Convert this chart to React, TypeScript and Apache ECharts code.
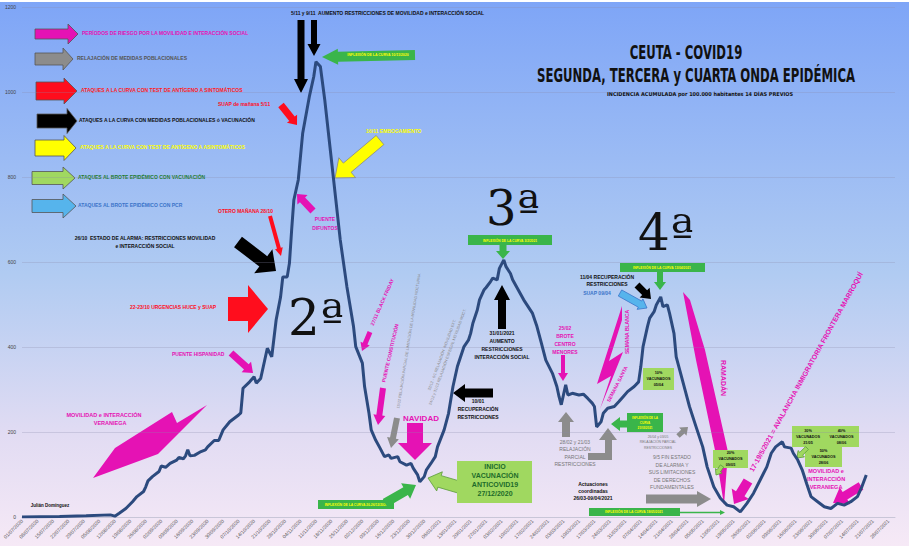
import React, { useEffect, useRef } from "react";
import * as echarts from "echarts";

// ---------- DATA ----------
// daily categories start on 01/07/2020
const START_YEAR = 2020;
const START_MONTH = 6; // July (0-based)
const START_DAY = 1;
const DAY_COUNT = 396;

// days since 01/07/2020 of the points
const dayOffset = [
  0, 17, 29, 40, 42, 44, 47, 50, 52, 55, 56, 57, 59, 62, 63, 65, 67, 70, 71, 73,
  74, 75, 76, 78, 81, 83, 84, 87, 89, 91, 94, 98, 99, 100, 103, 105, 106, 108, 111, 113,
  115, 117, 118, 120, 121, 122, 123, 125, 127, 130, 132, 133, 135, 137, 139, 142, 144, 147, 150, 151,
  154, 155, 157, 158, 160, 162, 164, 166, 167, 170, 171, 174, 176, 177, 179, 180, 182, 183, 185, 187,
  188, 191, 193, 195, 197, 200, 202, 203, 204, 206, 207, 209, 210, 212, 213, 215, 216, 218, 219, 221,
  222, 225, 227, 229, 231, 233, 235, 237, 240, 242, 243, 244, 246, 247, 249, 252, 254, 256, 258, 259,
  260, 262, 263, 265, 268, 270, 272, 274, 277, 279, 280, 281, 283, 284, 286, 287, 289, 290, 292, 293,
  295, 296, 298, 300, 302, 305, 308, 310, 313, 316, 319, 322, 325, 328, 331, 334, 337, 339, 341, 344,
  345, 348, 349, 351, 353, 355, 357, 360, 363, 366, 369, 372, 375, 378, 380, 382,
];
// incidencia acumulada por 100.000 habitantes, 14 días
const incidence = [
  0, 1, 3, 5, 2, 9, 20, 36, 48, 60, 71, 85, 95, 107, 120, 117, 126, 134, 140, 137,
  144, 158, 144, 145, 154, 158, 165, 180, 180, 205, 224, 240, 245, 303, 318, 330, 315, 326, 397, 377,
  464, 518, 565, 565, 597, 675, 746, 793, 903, 989, 1036, 1071, 1060, 981, 887, 746, 652, 542, 448, 401,
  362, 307, 244, 205, 181, 162, 142, 146, 138, 142, 130, 122, 126, 115, 99, 83, 95, 111, 126, 142,
  165, 205, 244, 307, 354, 401, 416, 432, 456, 487, 511, 534, 540, 554, 562, 558, 585, 605, 589, 573,
  558, 530, 511, 495, 479, 448, 409, 369, 338, 307, 283, 264, 311, 287, 291, 287, 289, 279, 268, 260,
  212, 224, 244, 256, 260, 271, 283, 295, 307, 318, 354, 401, 448, 468, 483, 499, 518, 495, 499, 479,
  432, 377, 338, 299, 260, 212, 165, 118, 71, 44, 28, 24, 12, 32, 56, 87, 118, 150, 165, 177,
  165, 162, 150, 134, 111, 79, 48, 36, 24, 20, 32, 28, 36, 48, 71, 99,
];

const Y_MIN = 0;
const Y_MAX = 1200;
const Y_STEP = 200;
const LABEL_EVERY_DAYS = 7;

const TITLE_1 = "CEUTA - COVID19";
const TITLE_2 = "SEGUNDA, TERCERA y CUARTA ONDA EPIDÉMICA";
const SUBTITLE = "INCIDENCIA ACUMULADA por 100.000 habitantes 14 DÍAS PREVIOS";

const legendItems = [
  { text: "PERÍODOS DE RIESGO POR LA MOVILIDAD E INTERACCIÓN SOCIAL", arrow: "#e512b4", color: "#e512b4" },
  { text: "RELAJACIÓN DE MEDIDAS POBLACIONALES", arrow: "#8c8c8c", color: "#555555" },
  { text: "ATAQUES A LA CURVA CON TEST DE ANTÍGENO A SINTOMÁTICOS", arrow: "#ff0d1d", color: "#ff1a1a" },
  { text: "ATAQUES A LA CURVA CON MEDIDAS POBLACIONALES ó VACUNACIÓN", arrow: "#000000", color: "#111111" },
  { text: "ATAQUES A LA CURVA CON TEST DE ANTÍGENO A ASINTOMÁTICOS", arrow: "#ffff00", color: "#ffff00" },
  { text: "ATAQUES AL BROTE EPIDÉMICO CON VACUNACIÓN", arrow: "#a0d860", color: "#1d7a2d" },
  { text: "ATAQUES AL BROTE EPIDÉMICO CON PCR", arrow: "#56b4ec", color: "#3a74c9" },
];

// ---------- helpers ----------
const pad = (n: number) => (n < 10 ? "0" + n : "" + n);
const categories: string[] = [];
for (let i = 0; i < DAY_COUNT; i++) {
  const d = new Date(Date.UTC(START_YEAR, START_MONTH, START_DAY + i));
  categories.push(`${pad(d.getUTCDate())}/${pad(d.getUTCMonth() + 1)}/${d.getUTCFullYear()}`);
}
const seriesData: (number | null)[] = new Array(DAY_COUNT).fill(null);
dayOffset.forEach((d, i) => {
  seriesData[d] = incidence[i];
});

const MAG = "#e512b4";
const GRAY = "#8c8c8c";
const RED = "#ff0d1d";
const YEL = "#ffff00";
const LGREEN = "#a0d860";
const GREEN = "#3ab54a";
const BLUE = "#56b4ec";
const FONT = "Liberation Sans";

function arrowPoly(
  x1: number, y1: number, x2: number, y2: number,
  sw: number, hw: number, hl: number, fill: string, stroke?: string
) {
  const dx = x2 - x1, dy = y2 - y1;
  const L = Math.hypot(dx, dy);
  const ux = dx / L, uy = dy / L;
  const nx = -uy, ny = ux;
  const bx = x2 - ux * hl, by = y2 - uy * hl;
  const pts = [
    [x1 + (nx * sw) / 2, y1 + (ny * sw) / 2],
    [bx + (nx * sw) / 2, by + (ny * sw) / 2],
    [bx + (nx * hw) / 2, by + (ny * hw) / 2],
    [x2, y2],
    [bx - (nx * hw) / 2, by - (ny * hw) / 2],
    [bx - (nx * sw) / 2, by - (ny * sw) / 2],
    [x1 - (nx * sw) / 2, y1 - (ny * sw) / 2],
  ];
  return {
    type: "polygon",
    silent: true,
    shape: { points: pts },
    style: { fill, stroke: stroke || "none", lineWidth: stroke ? 0.8 : 0 },
  };
}

function txt(
  x: number, y: number, text: string, fill: string, size: number,
  o: { align?: string; rot?: number; weight?: string; family?: string; lh?: number; scaleY?: number; scaleX?: number } = {}
) {
  const align = o.align || "left";
  return {
    type: "text",
    silent: true,
    x,
    y,
    rotation: ((o.rot || 0) * Math.PI) / 180,
    scaleX: o.scaleX || 1,
    scaleY: o.scaleY || 1,
    style: {
      text,
      fill,
      fontSize: size,
      fontWeight: o.weight || "bold",
      fontFamily: o.family || FONT,
      align,
      textAlign: align,
      verticalAlign: "middle",
      textVerticalAlign: "middle",
      lineHeight: o.lh || Math.round(size * 1.35),
    },
  };
}

function rect(x: number, y: number, w: number, h: number, fill: string, stroke?: string) {
  return {
    type: "rect",
    silent: true,
    shape: { x, y, width: w, height: h },
    style: { fill, stroke: stroke || "none", lineWidth: stroke ? 0.6 : 0 },
  };
}

function poly(points: number[][], fill: string) {
  return { type: "polygon", silent: true, shape: { points }, style: { fill } };
}

function buildGraphics() {
  const g: any[] = [];
  // top strip
  g.push(rect(0, 0, 909, 2, "#ffffff"));

  // ---- legend (left) ----
  const legendGeom = [
    [35, 78, 34, 10, 20, 10, 82],
    [35, 73, 59, 12, 22, 10, 77],
    [36, 77, 91, 18, 26, 13, 81],
    [37, 77, 121, 14, 25, 10, 79],
    [35, 76, 148, 16, 25, 12, 80],
    [32, 75, 178, 13, 22, 12, 78],
    [32, 76, 206, 13, 24, 13, 78],
  ];
  legendItems.forEach((it, i) => {
    const [x1, x2, y, sw, hw, hl, tx] = legendGeom[i];
    g.push(arrowPoly(x1, y, x2, y, sw, hw, hl, it.arrow, "#555"));
    g.push(txt(tx, y - 1, it.text, it.color, 5));
  });

  // ---- titles ----
  g.push(txt(686, 53, TITLE_1, "#111", 13, { align: "center", family: "DejaVu Sans Condensed", scaleY: 1.5 }));
  g.push(txt(696, 76, TITLE_2, "#111", 13, { align: "center", family: "DejaVu Sans Condensed", scaleY: 1.5 }));
  g.push(txt(700, 94, SUBTITLE, "#111", 5.5, { align: "center", family: "DejaVu Sans Condensed" }));

  // ---- wave numbers ----
  g.push(txt(288, 318, "2ª", "#111", 50, { family: "DejaVu Serif", weight: "normal", lh: 38 }));
  g.push(txt(486, 208, "3ª", "#111", 48, { family: "DejaVu Serif", weight: "normal", lh: 36 }));
  g.push(txt(638, 233, "4ª", "#111", 50, { family: "DejaVu Serif", weight: "normal", lh: 38 }));

  // ---- top: 5/11 y 9/11 ----
  g.push(txt(291, 13, "5/11 y 9/11  AUMENTO RESTRICCIONES DE MOVILIDAD e INTERACCIÓN SOCIAL", "#111", 5));
  g.push(arrowPoly(301, 20, 301, 93, 7, 14, 14, "#000"));
  g.push(arrowPoly(314, 20, 314, 56, 6, 13, 12, "#000"));
  g.push(arrowPoly(415, 55, 322, 57, 10, 16, 16, GREEN));
  g.push(txt(378, 55, "INFLEXIÓN DE LA CURVA 10/11/2020", YEL, 3.5, { align: "center" }));

  // SUAP de mañana
  g.push(txt(218, 104, "SUAP de mañana 5/11", RED, 5));
  g.push(arrowPoly(281, 105, 297, 125, 7, 13, 8, RED));
  // 16/11
  g.push(txt(366, 131, "16/11 EMBOGAMIENTO", YEL, 5));
  g.push(arrowPoly(380, 140, 335, 178, 12, 26, 16, YEL, "#888"));
  // puente difuntos
  g.push(arrowPoly(313, 211, 297, 194, 7, 14, 8, MAG));
  g.push(txt(325, 223, "PUENTE\nDIFUNTOS", MAG, 5, { align: "center", lh: 9 }));
  // otero
  g.push(txt(218, 211, "OTERO MAÑANA 28/10", RED, 5));
  g.push(arrowPoly(270, 216, 281, 256, 4, 8, 8, RED));
  // estado de alarma
  g.push(txt(145, 242, "26/10  ESTADO DE ALARMA: RESTRICCIONES MOVILIDAD\ne INTERACCIÓN SOCIAL", "#111", 5, { align: "center", lh: 8 }));
  g.push(arrowPoly(238, 242, 276, 271, 13, 30, 16, "#000"));
  // urgencias
  g.push(txt(130, 307, "22-23/10 URGENCIAS HUCE y SUAP", RED, 5));
  g.push(arrowPoly(228, 309, 268, 309, 24, 48, 20, RED));
  // hispanidad
  g.push(txt(172, 354, "PUENTE HISPANIDAD", MAG, 5));
  g.push(arrowPoly(231, 353, 253, 373, 7, 14, 9, MAG));
  // veraniega
  g.push(txt(104, 419, "MOVILIDAD e INTERACCIÓN\n        VERANIEGA", MAG, 5.5, { align: "center", lh: 8 }));
  g.push(poly([[93, 478], [115, 448], [172, 412], [177, 423], [207, 405], [158, 454]], MAG));
  g.push(txt(50, 505, "Julián Domínguez", "#111", 4.5, { align: "center" }));

  // ---- valley Dec 2020 ----
  g.push(txt(382, 302, "27/11 BLACK FRIDAY", MAG, 5, { align: "center", rot: 66 }));
  g.push(arrowPoly(370, 332, 362, 351, 5, 10, 8, MAG));
  g.push(txt(390, 353, "PUENTE CONSTITUCIÓN", MAG, 5, { align: "center", rot: 77 }));
  g.push(arrowPoly(383, 388, 378, 425, 6, 12, 10, MAG));
  g.push(txt(409, 341, "15/12 RELAJACIÓN PARCIAL DE LIMITACIÓN DE LA MOVILIDAD NOCTURNA", "#888", 3.8, { align: "center", rot: 81, weight: "normal" }));
  g.push(arrowPoly(397, 418, 391, 448, 6, 12, 10, GRAY));
  g.push(txt(445, 356, "22/12 - 6/1 RELAJACIÓN  MOVILIDAD EXT.\n24/12 y 31/12 RELAJACIÓN ESPECIAL MOVILIDAD NOCT.", "#888", 3.8, { align: "center", rot: 70, weight: "normal", lh: 6 }));
  g.push(txt(421, 418, "NAVIDAD", MAG, 8, { align: "center" }));
  g.push(arrowPoly(415, 423, 415, 460, 16, 34, 17, MAG));
  g.push(rect(318, 500, 76, 9, GREEN));
  g.push(txt(356, 504.5, "INFLEXIÓN DE LA CURVA 20-26/12/2020", YEL, 3.3, { align: "center" }));
  g.push(arrowPoly(385, 503, 416, 485, 9, 18, 12, GREEN));
  g.push(arrowPoly(462, 488, 428, 478, 12, 20, 12, LGREEN, "#5a9a3a"));
  g.push(rect(457, 461, 75, 42, LGREEN));
  g.push(txt(495, 480, "INICIO\nVACUNACIÓN\nANTICOVID19\n27/12/2020", "#1d6b2a", 7, { align: "center", lh: 8.7 }));

  // ---- 3rd wave ----
  g.push(arrowPoly(493, 393, 453, 393, 9, 18, 12, "#000"));
  g.push(txt(478, 409, "10/01\nRECUPERACIÓN\nRESTRICCIONES", "#111", 5, { align: "center", lh: 7.6 }));
  g.push(arrowPoly(502, 329, 502, 285, 8, 16, 15, "#000"));
  g.push(txt(502, 345, "31/01/2021\nAUMENTO\nRESTRICCIONES\nINTERACCIÓN SOCIAL", "#111", 5, { align: "center", lh: 7.7 }));
  g.push(rect(468, 235, 84, 10, GREEN));
  g.push(txt(510, 240.5, "INFLEXIÓN DE LA CURVA 3/2/2021", YEL, 3.3, { align: "center" }));
  g.push(arrowPoly(503, 245, 503, 259, 7, 14, 8, GREEN));

  g.push(txt(565, 340, "25/02\nBROTE\nCENTRO\nMENORES", MAG, 5, { align: "center", lh: 7.7 }));
  g.push(arrowPoly(563, 355, 563, 381, 4, 10, 8, MAG));
  g.push(arrowPoly(566, 437, 566, 412, 8, 16, 10, GRAY));
  g.push(txt(575, 453, "28/02 y 21/03\nRELAJACIÓN\nPARCIAL\nRESTRICCIONES", "#777", 5, { align: "center", lh: 7.6, weight: "normal" }));
  g.push(poly([[588, 453], [605, 453], [605, 440], [599, 440], [608, 428], [617, 440], [612, 440], [612, 460], [588, 460]], GRAY));
  g.push(arrowPoly(630, 424, 611, 424, 7, 14, 9, GREEN));
  g.push(rect(627, 413, 36, 19, GREEN));
  g.push(txt(645, 422.5, "INFLEXIÓN DE LA\nCURVA\n21/03/2021", YEL, 3, { align: "center", lh: 5 }));
  g.push(txt(593, 491, "Actuaciones\ncoordinadas\n26/03-09/04/2021", "#111", 5, { align: "center", lh: 7.3 }));
  g.push(arrowPoly(646, 499, 711, 499, 9, 16, 14, GRAY));
  g.push(rect(589, 508, 91, 8, GREEN));
  g.push(txt(634, 512, "INFLEXIÓN DE LA CURVA 19/05/2021", YEL, 3.3, { align: "center" }));
  g.push(arrowPoly(680, 512.5, 725, 512.5, 1.5, 5, 5, GREEN));
  g.push(txt(672, 472, "9/5 FIN ESTADO\nDE ALARMA Y\nSUS LIMITACIONES\nDE DERECHOS\nFUNDAMENTALES", "#777", 5, { align: "center", lh: 7.5, weight: "normal" }));
  g.push(txt(658, 442, "26/04 y 03/05\nRELAJACIÓN PARCIAL\nRESTRICCIONES", "#777", 3.4, { align: "center", lh: 5.5, weight: "normal" }));
  g.push(arrowPoly(678, 436, 688, 427, 5, 11, 7, GRAY));

  // ---- 4th wave ----
  g.push(txt(607, 280.5, "11/04 RECUPERACIÓN\nRESTRICCIONES", "#111", 5, { align: "center", lh: 7.5 }));
  g.push(arrowPoly(637, 285, 651, 299, 7, 14, 9, "#000"));
  g.push(txt(597, 293, "SUAP 09/04", "#3a74c9", 5, { align: "center" }));
  g.push(arrowPoly(620, 293, 647, 308, 7, 12, 8, BLUE, "#3a74c9"));
  g.push(rect(620, 263, 85, 9, GREEN));
  g.push(txt(662, 267.5, "INFLEXIÓN DE LA CURVA 13/04/2021", YEL, 3.3, { align: "center" }));
  g.push(arrowPoly(660, 272, 660, 290, 6, 12, 8, GREEN));
  g.push(poly([[622, 306], [597, 384], [611, 376], [600, 409], [623, 352], [609, 361], [622, 320]], MAG));
  g.push(txt(627, 332, "SEMANA BLANCA", MAG, 5, { align: "center", rot: 90 }));
  g.push(txt(617, 384, "SEMANA SANTA", MAG, 5, { align: "center", rot: 63 }));
  g.push(rect(643, 368, 31, 22, LGREEN));
  g.push(txt(658.5, 379, "10%\nVACUNADOS\n05/04", "#111", 3.8, { align: "center", lh: 6 }));
  g.push(poly([[683, 292], [690, 300], [705, 350], [728, 452], [724, 505], [716, 455], [696, 360]], MAG));
  g.push(txt(723, 378, "RAMADÁN", MAG, 7, { align: "center", rot: -90 }));
  g.push(rect(713, 450, 35, 18, LGREEN));
  g.push(txt(730.5, 459, "20%\nVACUNADOS\n09/05", "#111", 3.8, { align: "center", lh: 5.6 }));
  g.push(arrowPoly(722, 466, 716, 475, 4, 8, 5, LGREEN, "#5a9a3a"));
  g.push(arrowPoly(748, 481, 734, 504, 10, 20, 12, MAG));
  g.push(txt(806, 372, "17-19/5/2021 = AVALANCHA INMIGRATORIA FRONTERA MARROQUÍ", MAG, 7, { align: "center", rot: 61 }));
  g.push(rect(792, 426, 32, 21, LGREEN));
  g.push(txt(808, 436.5, "30%\nVACUNADOS\n21/05", "#111", 3.8, { align: "center", lh: 6 }));
  g.push(rect(824, 426, 35, 21, LGREEN));
  g.push(txt(841.5, 436.5, "40%\nVACUNADOS\n08/06", "#111", 3.8, { align: "center", lh: 6 }));
  g.push(rect(805, 447, 37, 20, LGREEN));
  g.push(txt(823.5, 457, "50%\nVACUNADOS\n28/06", "#111", 3.8, { align: "center", lh: 6 }));
  g.push(arrowPoly(807, 448, 797, 458, 4, 9, 6, LGREEN, "#5a9a3a"));
  g.push(txt(826, 479, "MOVILIDAD e\nINTERACCIÓN\nVERANIEGA", MAG, 5.5, { align: "center", lh: 8 }));
  g.push(arrowPoly(861, 486, 833, 503, 9, 20, 14, MAG));
  return g;
}

export default function App() {
  const ref = useRef<HTMLDivElement>(null);
  useEffect(() => {
    if (!ref.current) return;
    const chart = echarts.init(ref.current, undefined, { renderer: "svg" });
    chart.setOption({
      animation: false,
      backgroundColor: new echarts.graphic.LinearGradient(0, 0, 0, 1, [
        { offset: 0, color: "#7ea5f7" },
        { offset: 0.5, color: "#b0cbf2" },
        { offset: 0.8, color: "#e2dcf3" },
        { offset: 1, color: "#f6e9f6" },
      ]),
      grid: { left: 22, right: 14, top: 7, bottom: 29, containLabel: false },
      xAxis: {
        type: "category",
        data: categories,
        boundaryGap: false,
        axisLine: { lineStyle: { color: "#c9c6d8" } },
        axisTick: { show: false },
        axisLabel: {
          interval: LABEL_EVERY_DAYS - 1,
          rotate: 45,
          fontSize: 5,
          color: "#555",
          margin: 3,
          fontFamily: FONT,
        },
        splitLine: { show: false },
      },
      yAxis: {
        type: "value",
        min: Y_MIN,
        max: Y_MAX,
        interval: Y_STEP,
        axisLine: { show: false },
        axisTick: { show: false },
        axisLabel: {
          fontSize: 5,
          color: "#444",
          margin: 6,
          fontFamily: FONT,
          formatter: (v: number) => String(v),
        },
        splitLine: { lineStyle: { color: "rgba(140,140,170,0.35)", width: 0.8 } },
      },
      series: [
        {
          type: "line",
          data: seriesData,
          connectNulls: true,
          showSymbol: false,
          symbol: "none",
          lineStyle: { color: "#2c4a7e", width: 3 },
          z: 3,
        },
      ],
      graphic: { elements: buildGraphics() },
    });
    return () => chart.dispose();
  }, []);
  return (
    <div
      ref={ref}
      style={{ position: "fixed", left: 0, top: 0, width: 909, height: 546 }}
    />
  );
}
